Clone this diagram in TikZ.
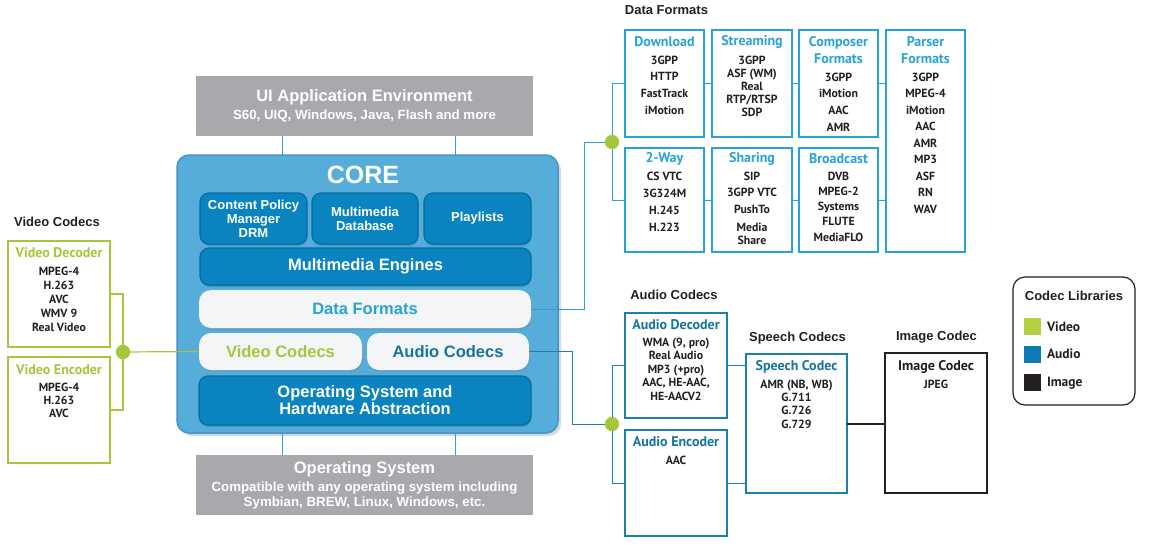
\documentclass[tikz,border=0pt]{standalone}
\usepackage{fontspec}
\setmainfont{Liberation Sans}
\newfontfamily\myr{PT Sans}
\usetikzlibrary{shadows}
\definecolor{grayb}{HTML}{A7A9AC}
\definecolor{corefill}{HTML}{56ADD9}
\definecolor{coreline}{HTML}{4396C4}
\definecolor{darkfill}{HTML}{0A84C0}
\definecolor{darkline}{HTML}{086C9E}
\definecolor{whitefill}{HTML}{F3F5F6}
\definecolor{dfblue}{HTML}{27A3D8}
\definecolor{aublue}{HTML}{1C7FAE}
\definecolor{autitle}{HTML}{17739F}
\definecolor{vgreen}{HTML}{A8C63C}
\definecolor{dotgreen}{HTML}{A5C53A}
\definecolor{legv}{HTML}{B5D043}
\definecolor{lega}{HTML}{0C7BB4}
\definecolor{legi}{HTML}{231F20}
\definecolor{txt}{HTML}{231F20}
\tikzset{
  every node/.style={inner sep=0pt, outer sep=0pt},
  graybox/.style={fill=grayb, minimum width=337pt, minimum height=60pt},
  corebox/.style={fill=corefill, draw=coreline, line width=1.5pt, rounded corners=12pt,
    drop shadow={opacity=0.3, shadow xshift=3pt, shadow yshift=-3pt}},
  darkbox/.style={fill=darkfill, draw=darkline, line width=1.2pt, rounded corners=9pt,
    text=white, align=center, font={\bfseries\fontsize{13}{14}\selectfont},
    drop shadow={opacity=0.35, fill=darkline, shadow xshift=0.5pt, shadow yshift=-2pt}},
  whitebox/.style={fill=whitefill, rounded corners=12pt, align=center,
    font={\bfseries\fontsize{16.5}{17}\selectfont},
    drop shadow={opacity=0.25, shadow xshift=1pt, shadow yshift=-2pt}},
  dbox/.style={draw=dfblue, line width=1.8pt, fill=white},
  abox/.style={draw=aublue, line width=1.8pt, fill=white},
  vbox/.style={draw=vgreen, line width=1.8pt, fill=white},
  ibox/.style={draw=txt, line width=1.6pt, fill=white},
  seclabel/.style={text=txt, font={\bfseries\fontsize{13}{14}\selectfont}},
  ttl/.style={font={\myr\bfseries\fontsize{14}{17}\selectfont}, align=center},
  itm/.style={text=txt, font={\myr\bfseries\fontsize{11.8}{#1}\selectfont}, align=center},
  itm/.default=14,
  dconn/.style={draw=dfblue, line width=1pt},
  aconn/.style={draw=aublue, line width=1pt},
  vconn/.style={draw=vgreen, line width=1.2pt},
  iconn/.style={draw=txt, line width=1.2pt},
  gdot/.style={circle, fill=dotgreen, minimum size=14pt},
}
\begin{document}
\begin{tikzpicture}[x=1pt,y=-1pt]
\useasboundingbox (0,0) rectangle (1163,555);

% ---------- gray boxes ----------
\node[graybox] (ui) at (364.5,106) {};
\node[text=white, font={\bfseries\fontsize{16.5}{17}\selectfont}] (uit) at (364.5,97) {UI Application Environment};
\node[text=white, font={\bfseries\fontsize{13.3}{14}\selectfont}] (uis) at (364.5,116) {S60, UIQ, Windows, Java, Flash and more};

\node[graybox] (os) at (364.5,485) {};
\node[text=white, font={\bfseries\fontsize{16.5}{17}\selectfont}] (ost) at (364.5,469) {Operating System};
\node[text=white, align=center, font={\bfseries\fontsize{13.3}{14.5}\selectfont}] (oss) at (364.5,495.5) {Compatible with any operating system including\\Symbian, BREW, Linux, Windows, etc.};

% ---------- core ----------
\node[corebox, minimum width=381pt, minimum height=278pt] (core) at (367.5,294) {};
\node[text=white, font={\bfseries\fontsize{25}{26}\selectfont}] (coret) at (363,175) {CORE};
\node[darkbox, minimum width=107pt, minimum height=51pt] (cpm) at (253.5,218.5) {Content Policy\\Manager\\DRM};
\node[darkbox, minimum width=106pt, minimum height=51pt] (mdb) at (365,218.5) {Multimedia\\Database};
\node[darkbox, minimum width=107pt, minimum height=51pt] (pl) at (477.5,218.5) {Playlists};
\node[darkbox, minimum width=331pt, minimum height=37pt, font={\bfseries\fontsize{16.5}{17}\selectfont}] (me) at (365.5,266.5) {Multimedia Engines};
\node[whitebox, minimum width=332pt, minimum height=38pt, text=dfblue] (dfc) at (365,309) {Data Formats};
\node[whitebox, minimum width=163pt, minimum height=37pt, text=vgreen] (vc) at (280.5,351.5) {Video Codecs};
\node[whitebox, minimum width=162pt, minimum height=37pt, text=autitle] (acd) at (448,351.5) {Audio Codecs};
\node[darkbox, minimum width=332pt, minimum height=49pt, font={\bfseries\fontsize{16.5}{17}\selectfont}] (oshw) at (365,400.5) {Operating System and\\Hardware Abstraction};

\coordinate (cl) at (282,0);
\coordinate (cr) at (455,0);
\draw[dconn] (cl |- ui.south) -- (cl |- core.north);
\draw[dconn] (cr |- ui.south) -- (cr |- core.north);
\draw[dconn] (cl |- core.south) -- (cl |- os.north);
\draw[dconn] (cr |- core.south) -- (cr |- os.north);

% ---------- video codecs ----------
\node[seclabel] (vlab) at (57,222) {Video Codecs};
\node[vbox, minimum width=102pt, minimum height=106pt] (vdec) at (59,294) {};
\node[vbox, minimum width=102pt, minimum height=106pt] (venc) at (59,410) {};
\node[ttl, text=vgreen] (vdect) at (59,253) {Video Decoder};
\node[itm=14] (vdeci) at (59,299) {MPEG-4\\H.263\\AVC\\WMV 9\\Real Video};
\node[ttl, text=vgreen] (venct) at (59,370) {Video Encoder};
\node[itm=13] (venci) at (59,400) {MPEG-4\\H.263\\AVC};
\coordinate (vj1) at (123,294);
\coordinate (vj2) at (123,410);
\node[gdot] (vdot) at (123,352) {};
\draw[vconn] (vdec.east) -- (vj1) -- (vj2) -- (venc.east);
\draw[vconn] (vdot) -- (vc.west);
\node[gdot] at (123,352) {};

% ---------- data formats ----------
\node[seclabel] (dlab) at (666.5,10) {Data Formats};
\node[dbox, minimum width=79pt, minimum height=107pt] (dl) at (664.5,83.5) {};
\node[dbox, minimum width=80pt, minimum height=107pt] (st) at (752,83.5) {};
\node[dbox, minimum width=79pt, minimum height=107pt] (co) at (838.5,83.5) {};
\node[dbox, minimum width=79pt, minimum height=222pt] (pa) at (925.5,141) {};
\node[dbox, minimum width=79pt, minimum height=104pt] (tw) at (664.5,200) {};
\node[dbox, minimum width=80pt, minimum height=104pt] (sh) at (752,200) {};
\node[dbox, minimum width=79pt, minimum height=104pt] (br) at (838.5,200) {};

\node[ttl, text=dfblue] (dlt) at (664.5,42) {Download};
\node[itm=16.7] (dli) at (664.5,85) {3GPP\\HTTP\\FastTrack\\iMotion};
\node[ttl, text=dfblue] (stt) at (752,42) {Streaming};
\node[itm=13] (sti) at (752,86) {3GPP\\ASF (WM)\\Real\\RTP/RTSP\\SDP};
\node[ttl, text=dfblue] (cot) at (838.5,50.5) {Composer\\Formats};
\node[itm=16.7] (coi) at (838.5,102) {3GPP\\iMotion\\AAC\\AMR};
\node[ttl, text=dfblue] (pat) at (925.5,50.5) {Parser\\Formats};
\node[itm=16.5] (pai) at (925.5,143) {3GPP\\MPEG-4\\iMotion\\AAC\\AMR\\MP3\\ASF\\RN\\WAV};
\node[ttl, text=dfblue] (twt) at (664.5,159) {2-Way};
\node[itm=17] (twi) at (664.5,201.5) {CS VTC\\3G324M\\H.245\\H.223};
\node[ttl, text=dfblue] (sht) at (752,159) {Sharing};
\node[itm=16.5] (shi) at (752,192.5) {SIP\\3GPP VTC\\PushTo};
\node[itm=13] (shm) at (752,233.5) {Media\\Share};
\node[ttl, text=dfblue] (brt) at (838.5,159) {Broadcast};
\node[itm=15.2] (bri) at (838.5,206.5) {DVB\\MPEG-2\\Systems\\FLUTE\\MediaFLO};

\coordinate (dj1) at (612,83.5);
\coordinate (dj2) at (612,200);
\coordinate (dr1) at (584,0);
\node[gdot] (ddot) at (612,142) {};
\draw[dconn] (dl.west) -- (dj1) -- (dj2) -- (tw.west);
\draw[dconn] (dfc.east) -- (dr1 |- dfc.east) -- (dr1 |- ddot) -- (ddot);
\draw[dconn] (dl.east) -- (st.west);
\draw[dconn] (st.east) -- (co.west);
\draw[dconn] (co.east) -- (co.east -| pa.west);
\draw[dconn] (tw.east) -- (sh.west);
\draw[dconn] (sh.east) -- (br.west);
\draw[dconn] (br.east) -- (br.east -| pa.west);
\node[gdot] at (612,142) {};

% ---------- audio codecs ----------
\node[seclabel] (alab) at (674,295) {Audio Codecs};
\node[abox, minimum width=102pt, minimum height=105pt] (adec) at (676,365.5) {};
\node[abox, minimum width=102pt, minimum height=106pt] (aenc) at (676,483) {};
\node[ttl, text=autitle] (adect) at (676,325) {Audio Decoder};
\node[itm=13.5] (adeci) at (676,369) {WMA (9, pro)\\Real Audio\\MP3 (+pro)\\AAC, HE-AAC,\\HE-AACV2};
\node[ttl, text=autitle] (aenct) at (676,442) {Audio Encoder};
\node[itm] (aenci) at (676,460) {AAC};

\node[seclabel] (slab) at (797.5,338) {Speech Codecs};
\node[abox, minimum width=101pt, minimum height=139pt] (sp) at (796.5,423.5) {};
\node[ttl, text=autitle] (spt) at (796.5,367) {Speech Codec};
\node[itm=13.3] (spi) at (796.5,404) {AMR (NB, WB)\\G.711\\G.726\\G.729};

\coordinate (aj1) at (612,365.5);
\coordinate (aj2) at (612,483);
\coordinate (ar1) at (572,0);
\node[gdot] (adot) at (612,424) {};
\draw[aconn] (adec.west) -- (aj1) -- (aj2) -- (aenc.west);
\draw[aconn] (acd.east) -- (ar1 |- acd.east) -- (ar1 |- adot) -- (adot);
\draw[aconn] (adec.east) -- (adec.east -| sp.west);
\draw[aconn] (aenc.east) -- (aenc.east -| sp.west);
\node[gdot] at (612,424) {};

% ---------- image codec ----------
\node[seclabel] (ilab) at (936.5,337) {Image Codec};
\node[ibox, minimum width=102pt, minimum height=140pt] (img) at (936,423) {};
\node[ttl, text=txt] (imgt) at (936,367) {Image Codec};
\node[itm] (imgi) at (936,384) {JPEG};
\coordinate (ij) at (0,424);
\draw[iconn] (sp.east |- ij) -- (img.west |- ij);

% ---------- legend ----------
\node[draw=txt, line width=1.2pt, rounded corners=12pt, minimum width=122pt, minimum height=128pt] (leg) at (1074,341) {};
\node[seclabel] (legt) at (1074,296) {Codec Libraries};
\node[fill=legv, minimum size=17pt] (lv) at (1032.5,326.5) {};
\node[fill=lega, minimum size=17pt] (la) at (1032.5,354.5) {};
\node[fill=legi, minimum size=17pt] (li) at (1032.5,382.5) {};
\node[anchor=west, text=txt, font={\myr\bfseries\fontsize{13.5}{14}\selectfont}] (lvt) at (1047,327) {Video};
\node[anchor=west, text=txt, font={\myr\bfseries\fontsize{13.5}{14}\selectfont}] (lat) at (1047,354) {Audio};
\node[anchor=west, text=txt, font={\myr\bfseries\fontsize{13.5}{14}\selectfont}] (lit) at (1047,383) {Image};
\end{tikzpicture}
\end{document}
